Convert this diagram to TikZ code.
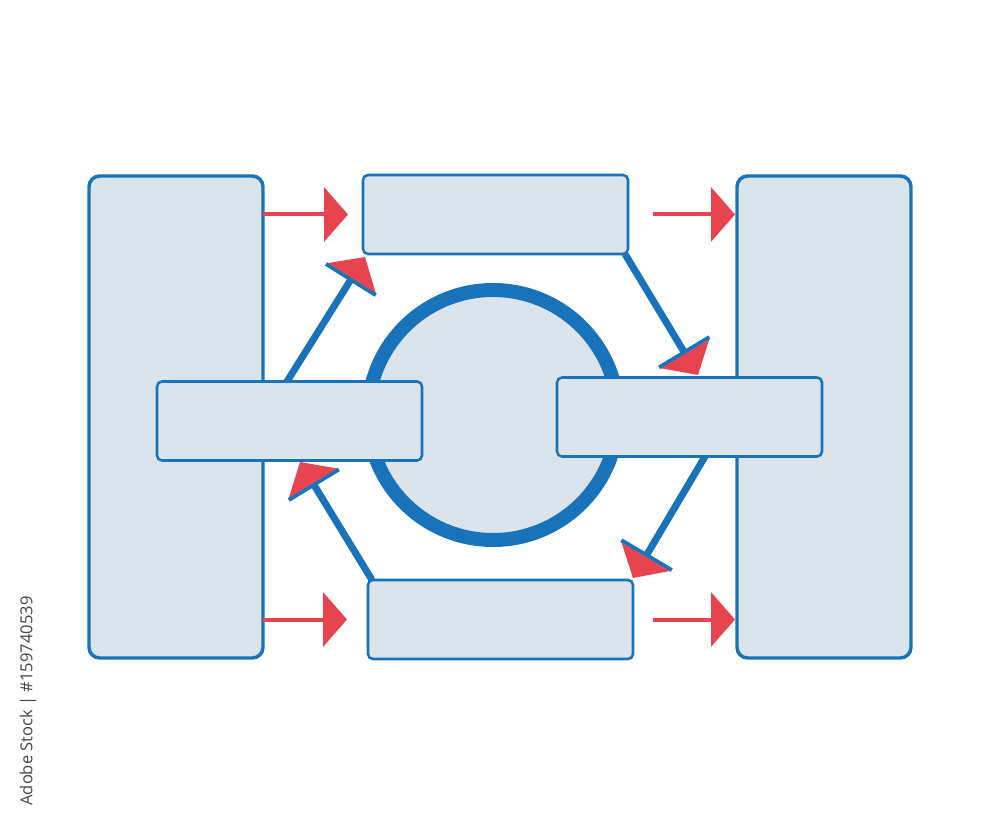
\documentclass[tikz,border=0pt]{standalone}
\usepackage{fontspec}
\newfontfamily\wmfont{Open Sans}
\usetikzlibrary{calc,arrows.meta,backgrounds}
\definecolor{myblue}{RGB}{24,115,187}
\definecolor{myfill}{RGB}{220,228,235}
\definecolor{myred}{RGB}{232,68,80}
\definecolor{wmgray}{RGB}{70,70,70}
\tikzset{
  tallbox/.style={draw=myblue, fill=myfill, line width=2.6pt, rounded corners=8pt,
    rectangle, outer sep=0pt, inner sep=0pt, minimum width=130.5pt, minimum height=361.5pt},
  smallbox/.style={draw=myblue, fill=myfill, line width=1.9pt, rounded corners=3.75pt,
    rectangle, outer sep=0pt, inner sep=0pt, minimum width=198.75pt, minimum height=59.25pt},
  hub/.style={circle, draw=myblue, fill=myfill, line width=10.5pt, outer sep=0pt,
    inner sep=0pt, minimum size=187.5pt},
  redarrow/.style={draw=myred, line width=3pt, -{Triangle[width=40.5pt,length=18pt]}},
  hexshaft/.style={draw=myblue, line width=5.25pt},
  hexbar/.style={draw=myblue, line width=3pt},
}
\newcommand\hexarrow[2]{%
  \coordinate (hb) at ($(#2)!18.5pt!(#1)$);
  \coordinate (hl) at ($(hb)!21pt!90:(#2)$);
  \coordinate (hr) at ($(hb)!21pt!-90:(#2)$);
  \coordinate (bb) at ($(hb)!1.4pt!(#1)$);
  \coordinate (bl) at ($(bb)!22pt!90:(#2)$);
  \coordinate (br) at ($(bb)!22pt!-90:(#2)$);
  \draw[hexshaft] (#1) -- (bb);
  \draw[hexbar] (bl) -- (br);
  \fill[myred] (hl) -- (#2) -- (hr) -- cycle;
}
\begin{document}
\begin{tikzpicture}[x=0.75pt,y=-0.75pt]
\useasboundingbox (0,0) rectangle (1000,834);
\node[tallbox] (L) at (176,417) {};
\node[tallbox] (R) at (824,417) {};
\node[hub] (C) at (493,415) {};
\node[smallbox] (LM) at (289.5,421) {};
\node[smallbox] (RM) at (689.5,417) {};
\node[smallbox] (T) at (495.5,214.5) {};
\node[smallbox] (B) at (500.5,619.5) {};
\coordinate (s1) at ($(LM.north west)+(130,0)$);
\coordinate (s2) at ($(T.south east)+(-3,0)$);
\coordinate (s3) at ($(RM.south west)+(148,0)$);
\coordinate (s4) at ($(B.north west)+(4,0)$);
\coordinate (t1) at (365,257);
\coordinate (t2) at (698,375);
\coordinate (t3) at (633,578);
\coordinate (t4) at (300,462);
\begin{pgfonlayer}{background}
\hexarrow{s1}{t1}
\hexarrow{s2}{t2}
\hexarrow{s3}{t3}
\hexarrow{s4}{t4}
\end{pgfonlayer}
\draw[redarrow] (L.east |- T.west) -- ($(T.west)+(-15,0)$);
\draw[redarrow] ($(T.east)+(25,0)$) -- ($(R.west |- T.east)+(-2,0)$);
\draw[redarrow] (L.east |- B.west) -- ($(B.west)+(-21,0)$);
\draw[redarrow] ($(B.east)+(20,0)$) -- ($(R.west |- B.east)+(-2,0)$);
\node[rotate=90, text=wmgray, font=\wmfont\fontsize{12.4}{14}\selectfont, inner sep=0pt] (wm) at (28,701) {Adobe Stock | \#159740539};
\end{tikzpicture}
\end{document}
